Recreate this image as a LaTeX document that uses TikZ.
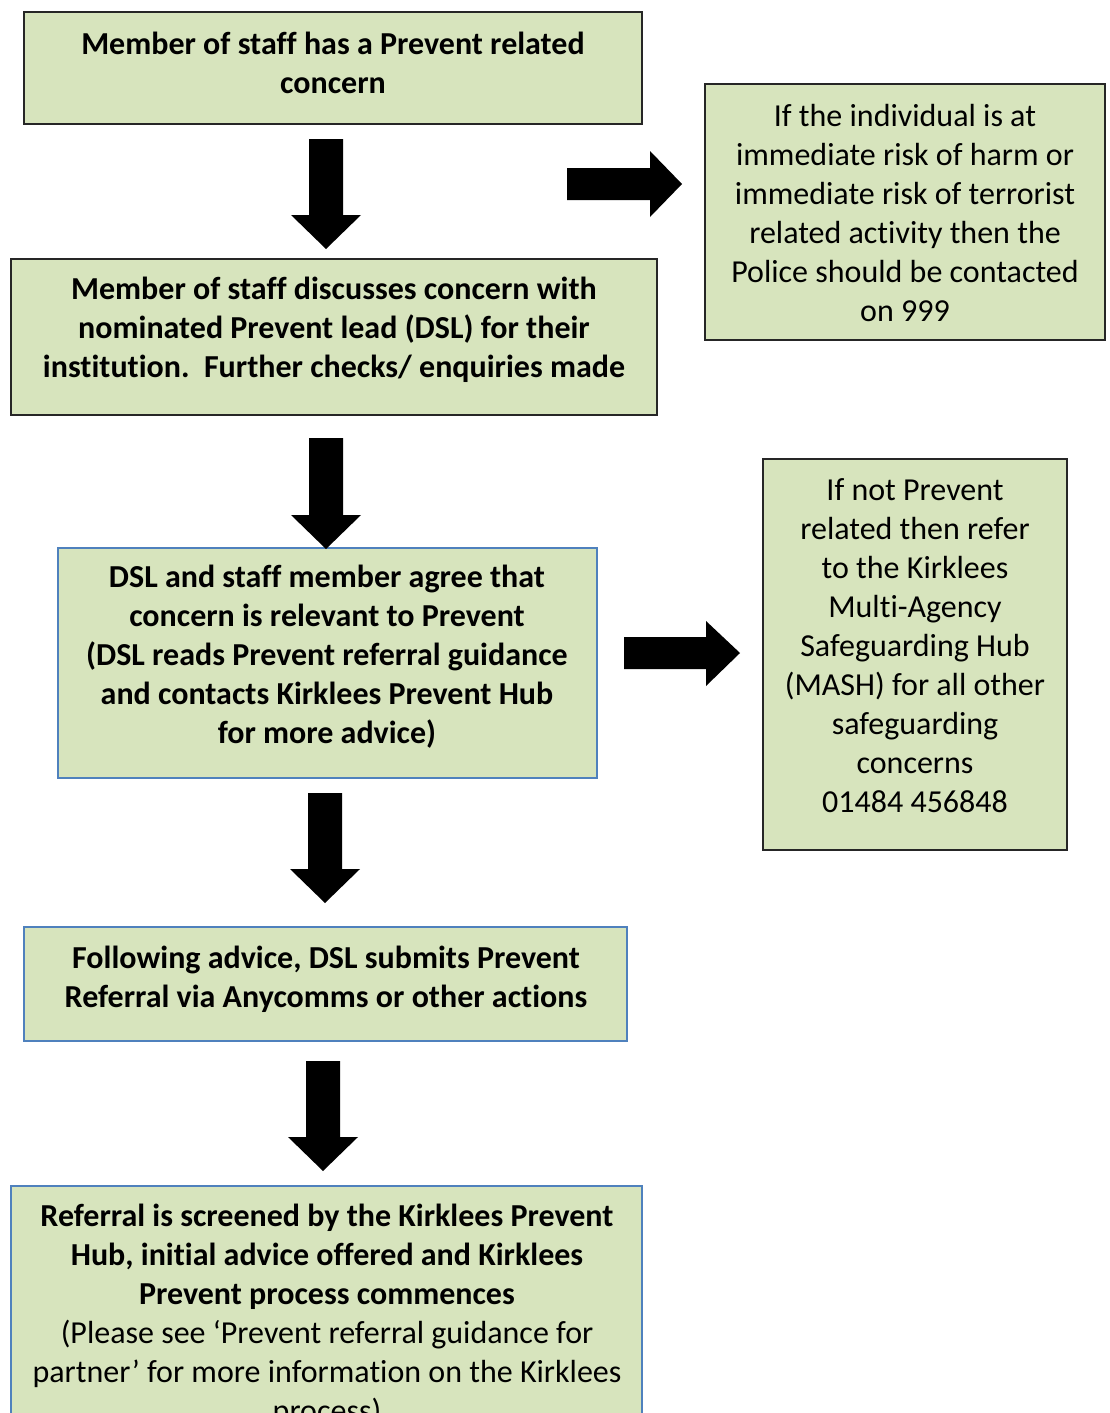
\documentclass[tikz,border=0pt]{standalone}
\usepackage{fontspec}
\setmainfont{Carlito}[Ligatures=NoCommon]
\definecolor{boxfill}{HTML}{D7E4BD}
\definecolor{boxblue}{HTML}{4F81BD}
\definecolor{boxdark}{HTML}{262626}
\begin{document}
\begin{tikzpicture}[x=1pt,y=-1pt,
  box/.style={draw=boxdark,fill=boxfill,line width=1.3pt},
  bluebox/.style={draw=boxblue,fill=boxfill,line width=1.3pt},
  txt/.style={align=center,inner sep=0pt,font=\fontsize{32}{39}\selectfont},
  btxt/.style={txt,font=\fontsize{32}{39}\selectfont\bfseries}]
\clip (0,0) rectangle (1110,1413);
\fill[white] (0,0) rectangle (1110,1413);
% boxes
\draw[box] (24,12) rectangle (642,124);
\draw[box] (705,84) rectangle (1105,340);
\draw[box] (11,259) rectangle (657,415);
\draw[bluebox] (58,548) rectangle (597,778);
\draw[box] (763,459) rectangle (1067,850);
\draw[bluebox] (24,927) rectangle (627,1041);
\draw[bluebox] (11,1186) rectangle (642,1460);
% texts
\node[btxt] (t1) at (333,63) {Member of staff has a Prevent related\\concern};
\node[txt] (t2) at (905,213) {If the individual is at\\immediate risk of harm or\\immediate risk of terrorist\\related activity then the\\Police should be contacted\\on 999};
\node[btxt] (t3) at (334,330) {Member of staff discusses concern with\\nominated Prevent lead (DSL) for their\\institution.\ \ Further checks/ enquiries made};
\node[btxt] (t4) at (327,657) {DSL and staff member agree that\\concern is relevant to Prevent\\(DSL reads Prevent referral guidance\\and contacts Kirklees Prevent Hub\\for more advice)};
\node[txt] (t5) at (915,646) {If not Prevent\\related then refer\\to the Kirklees\\Multi-Agency\\Safeguarding Hub\\(MASH) for all other\\safeguarding\\concerns\\01484 456848};
\node[btxt] (t6) at (326,979) {Following advice, DSL submits Prevent\\Referral via Anycomms or other actions};
\node[txt] (t7) at (327,1315) {\bfseries Referral is screened by the Kirklees Prevent\\\bfseries Hub, initial advice offered and Kirklees\\\bfseries Prevent process commences\\(Please see ‘Prevent referral guidance for\\partner’ for more information on the Kirklees\\process)};
% block arrows (down)
\fill (309,139) -- (343,139) -- (343,215) -- (361,215) -- (326,249) -- (291,215) -- (309,215) -- cycle;
\fill (309,438) -- (343,438) -- (343,515) -- (361,515) -- (326,549) -- (291,515) -- (309,515) -- cycle;
\fill (308,793) -- (342,793) -- (342,869) -- (360,869) -- (325,903) -- (290,869) -- (308,869) -- cycle;
\fill (306,1061) -- (340,1061) -- (340,1137) -- (358,1137) -- (323,1171) -- (288,1137) -- (306,1137) -- cycle;
% block arrows (right)
\fill (567,168) -- (650,168) -- (650,151) -- (682,184) -- (650,217) -- (650,200) -- (567,200) -- cycle;
\fill (624,637) -- (706,637) -- (706,621) -- (740,653) -- (706,686) -- (706,669) -- (624,669) -- cycle;
\end{tikzpicture}
\end{document}
